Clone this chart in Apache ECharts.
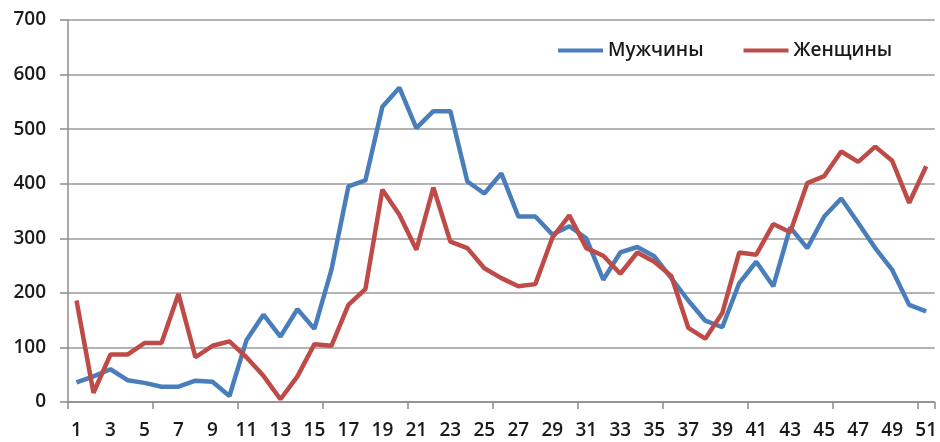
<!DOCTYPE html>
<html>
<head>
<meta charset="utf-8">
<script src="https://cdn.jsdelivr.net/npm/echarts@6/dist/echarts.min.js"></script>
<style>html,body{margin:0;padding:0;background:#fff}#c{width:940px;height:442px}</style>
</head>
<body>
<div id="c"></div>
<script>
var categories = [];
for (var i = 1; i <= 51; i++) categories.push(String(i));
var seriesNames = ['Мужчины', 'Женщины'];
var men = [36, 47, 60, 40, 35, 28, 28, 39, 37, 11,
           113, 160, 120, 170, 134, 242, 395, 406, 541, 576,
           502, 533, 533, 404, 382, 419, 340, 340, 307, 322,
           300, 224, 274, 284, 267, 227, 186, 149, 137, 218,
           257, 212, 320, 282, 340, 373, 328, 282, 242, 178, 166];
var women = [186, 17, 87, 87, 108, 108, 198, 82, 103, 111,
             82, 48, 5, 47, 106, 103, 178, 207, 389, 343,
             279, 393, 294, 282, 245, 227, 212, 216, 301, 342,
             282, 268, 235, 274, 257, 231, 136, 116, 163, 274,
             270, 326, 311, 401, 414, 459, 440, 468, 442, 365, 432];
var yTicks = [0, 700, 100];

var chart = echarts.init(document.getElementById('c'));
var font = '"Open Sans", "Noto Sans", sans-serif';
chart.setOption({
  animation: false,
  grid: { left: 68, right: 0, top: 20, bottom: 40 },
  legend: {
    data: seriesNames,
    left: 553, top: 36,
    icon: 'rect', itemWidth: 45, itemHeight: 4, itemGap: 40,
    textStyle: { fontFamily: font, fontSize: 19, fontWeight: 600, color: '#1a1a1a' }
  },
  xAxis: {
    type: 'category', data: categories, boundaryGap: true,
    axisLine: { lineStyle: { color: '#8c8c8c', width: 1.5 } },
    axisTick: { show: true, interval: 4, length: 7, lineStyle: { color: '#8c8c8c', width: 1.5 } },
    axisLabel: { interval: 1, margin: 19, fontFamily: font, fontSize: 19, fontWeight: 600, color: '#1a1a1a' }
  },
  yAxis: {
    type: 'value', min: yTicks[0], max: yTicks[1], interval: yTicks[2],
    axisLine: { show: true, lineStyle: { color: '#8c8c8c', width: 1.5 } },
    axisTick: { show: true, length: 8, lineStyle: { color: '#8c8c8c', width: 1.5 } },
    splitLine: { lineStyle: { color: '#9a9a9a', width: 1.5 } },
    axisLabel: { margin: 22, fontFamily: font, fontSize: 19, fontWeight: 600, color: '#1a1a1a' }
  },
  series: [
    { name: seriesNames[0], type: 'line', data: men, showSymbol: false, symbol: 'none',
      lineStyle: { color: '#4a7ebb', width: 4.5 }, itemStyle: { color: '#4a7ebb' } },
    { name: seriesNames[1], type: 'line', data: women, showSymbol: false, symbol: 'none',
      lineStyle: { color: '#be4b48', width: 4.5 }, itemStyle: { color: '#be4b48' } }
  ]
});
</script>
</body>
</html>
